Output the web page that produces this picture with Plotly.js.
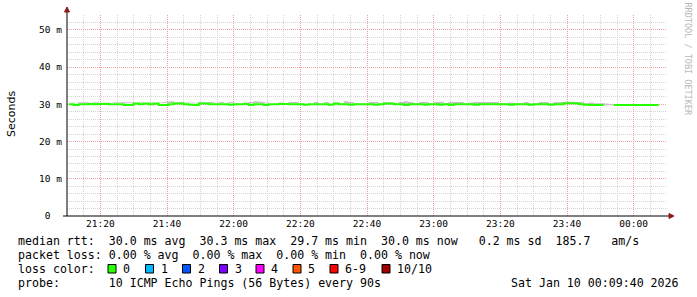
<!DOCTYPE html>
<html>
<head>
<meta charset="utf-8">
<script src="https://cdn.plot.ly/plotly-3.0.1.min.js"></script>
<style>html,body{margin:0;padding:0;background:#fff;}#chart{width:697px;height:297px;}</style>
</head>
<body>
<div id="chart"></div>
<script>
// ---- data (ms) ----
const sampleStart = '2026-01-09T21:10:30Z';
const sampleStepSec = 90;
const medianRtt = [
  30.0, 29.8, 30.0, 30.0, 30.1, 30.0, 30.1, 30.1, 30.0, 30.0,
  30.0, 29.8, 29.8, 30.2, 30.0, 30.2, 30.0, 30.2, 29.8, 29.8,
  30.0, 30.2, 30.2, 30.0, 29.9, 29.8, 30.2, 30.2, 30.0, 30.0,
  30.0, 30.0, 29.9, 30.0, 30.0, 30.1, 29.8, 30.0, 30.0, 29.8,
  30.0, 30.0, 30.1, 30.1, 30.0, 30.0, 30.0, 29.9, 30.0, 30.0,
  30.0, 30.0, 29.9, 30.2, 30.0, 30.0, 29.9, 30.0, 30.0, 30.0,
  30.0, 29.9, 30.0, 30.2, 30.2, 30.0, 30.0, 29.8, 30.0, 30.0,
  30.0, 29.9, 30.0, 30.0, 29.9, 30.0, 29.8, 30.0, 30.0, 30.0,
  30.0, 29.9, 30.0, 30.0, 30.0, 30.0, 30.0, 30.0, 29.9, 30.0,
  30.0, 30.0, 29.9, 30.0, 30.0, 30.0, 29.9, 30.0, 30.0, 30.3,
  30.3, 30.3, 30.0, 29.9, 29.8, 29.8, 29.8, 29.8, null, 29.8,
  29.8, 29.8, 29.8, 29.8, 29.8, 29.8, 29.8, 29.8, 29.8, null
];
const smokeMax = [
  30.6, 30.6, 30.3, 30.3, 30.6, 30.3, 30.6, 30.6, 30.6, 30.3,
  30.3, 30.3, 30.3, 30.5, 30.3, 30.5, 30.3, 30.5, 30.3, 30.7,
  30.8, 30.5, 30.5, 30.3, 30.3, 30.3, 30.5, 30.5, 30.6, 30.3,
  30.6, 30.3, 30.6, 30.3, 30.3, 30.5, 30.6, 30.8, 30.7, 30.5,
  30.3, 30.3, 30.5, 30.3, 30.6, 30.6, 30.3, 30.3, 30.3, 30.6,
  30.3, 30.6, 30.3, 30.5, 30.3, 30.8, 30.6, 30.3, 30.3, 30.3,
  30.6, 30.6, 30.3, 30.5, 30.5, 30.3, 30.6, 30.8, 30.6, 30.3,
  30.6, 30.6, 30.3, 30.6, 30.7, 30.3, 30.6, 30.6, 30.6, 30.3,
  30.5, 30.6, 30.6, 30.6, 30.6, 30.6, 30.3, 30.3, 30.5, 30.3,
  30.3, 30.6, 30.3, 30.3, 30.6, 30.6, 30.3, 30.6, 30.6, 30.7,
  30.7, 30.6, 30.6, 30.3, 30.5, 30.3, 30.3, 30.3, null, 30.0,
  30.0, 30.0, 30.0, 30.0, 30.0, 30.0, 30.0, 30.0, 30.6, null
];
const yTickVals = [0, 10, 20, 30, 40, 50];
const yTickText = ['\u00a00\u00a0\u00a0', '10 m', '20 m', '30 m', '40 m', '50 m'];
const lossColors = ['#26ff00', '#00b8ff', '#0059ff', '#7e00ff', '#ff00ff', '#ff5500', '#ff0000', '#a10000'];
const lossLabels = ['0', '1', '2', '3', '4', '5', '6-9', '10/10'];
const statsLine = 'median rtt:  30.0 ms avg  30.3 ms max  29.7 ms min  30.0 ms now   0.2 ms sd  185.7   am/s';
const lossLine = 'packet loss: 0.00 % avg  0.00 % max  0.00 % min  0.00 % now';
const probeLine = 'probe:       10 ICMP Echo Pings (56 Bytes) every 90s';
const dateLine = 'Sat Jan 10 00:09:40 2026';

// ---- geometry ----
const W = 697, H = 297;
const M = {l: 67, r: 30, t: 15, b: 81};
const PW = W - M.l - M.r, PH = H - M.t - M.b;
const px = x => (x - M.l) / PW;
const py = y => (H - M.b - y) / PH;

const base = Date.parse(sampleStart);
const times = medianRtt.map((_, i) => new Date(base + i * sampleStepSec * 1000).toISOString().replace('T', ' ').slice(0, 19));

const mono = 'DejaVu Sans Mono, monospace';
const traces = [
  {x: times, y: medianRtt, type: 'scatter', mode: 'lines', line: {width: 0, shape: 'hv'}, hoverinfo: 'skip', showlegend: false},
  {x: times, y: smokeMax, type: 'scatter', mode: 'lines', line: {width: 0, shape: 'hv'}, fill: 'tonexty', fillcolor: '#c4c4c4', hoverinfo: 'skip', showlegend: false},
  {x: times, y: medianRtt, type: 'scatter', mode: 'lines', line: {width: 2, shape: 'hv', color: '#26ff00'}, showlegend: false}
];

function txt(text, x, y, xanchor, font) {
  return {text: text, x: px(x), y: py(y), xanchor: xanchor, yanchor: 'middle', xref: 'paper', yref: 'paper', showarrow: false, font: font};
}
const bodyFont = {family: mono, size: 11.6, color: '#000'};
const annotations = [
  Object.assign(txt('Seconds', 11, 114, 'center', {family: 'DejaVu Sans, sans-serif', size: 11, color: '#000'}), {textangle: -90}),
  Object.assign(txt('RRDTOOL / TOBI OETIKER', 687.5, 59, 'center', {family: mono, size: 8.5, color: '#b8b8b8'}), {textangle: 90}),
  txt(statsLine.replace(/ /g, '\u00a0'), 16, 241, 'left', bodyFont),
  txt(lossLine.replace(/ /g, '\u00a0'), 16, 255, 'left', bodyFont),
  txt('loss\u00a0color:', 16, 269, 'left', bodyFont),
  txt(probeLine.replace(/ /g, '\u00a0'), 16, 283, 'left', bodyFont),
  txt(dateLine.replace(/ /g, '\u00a0'), 681, 283, 'right', bodyFont)
];
const swatchLeft = [108, 145.5, 182.5, 219.5, 256, 293, 330, 382];
const shapes = [];
lossLabels.forEach((lab, i) => {
  const x0 = swatchLeft[i];
  shapes.push({type: 'rect', xref: 'paper', yref: 'paper', x0: px(x0), x1: px(x0 + 8), y0: py(273), y1: py(264.5), fillcolor: lossColors[i], line: {color: '#000', width: 1}});
  annotations.push(txt(lab, x0 + 13, 269, 'left', bodyFont));
});
// axes with arrows
shapes.push({type: 'line', xref: 'paper', yref: 'paper', x0: px(67), x1: px(67), y0: py(216), y1: py(10), line: {color: '#000', width: 1}});
shapes.push({type: 'line', xref: 'paper', yref: 'paper', x0: px(63), x1: px(671), y0: py(216), y1: py(216), line: {color: '#000', width: 1}});
shapes.push({type: 'path', xref: 'paper', yref: 'paper', path: `M ${px(64.5)} ${py(12)} L ${px(69.5)} ${py(12)} L ${px(67)} ${py(7)} Z`, fillcolor: '#8b1a1a', line: {color: '#8b1a1a', width: 1}});
shapes.push({type: 'path', xref: 'paper', yref: 'paper', path: `M ${px(669)} ${py(213.5)} L ${px(669)} ${py(218.5)} L ${px(674)} ${py(216)} Z`, fillcolor: '#8b1a1a', line: {color: '#8b1a1a', width: 1}});

const layout = {
  width: W, height: H,
  margin: M,
  paper_bgcolor: '#fff', plot_bgcolor: '#fff',
  showlegend: false,
  xaxis: {
    type: 'date',
    range: ['2026-01-09 21:10:00', '2026-01-10 00:10:00'],
    tick0: '2026-01-09 21:20:00', dtick: 20 * 60 * 1000,
    tickformat: '%H:%M',
    showgrid: true, gridcolor: '#eba0a0', griddash: '1px,1px', gridwidth: 1,
    minor: {dtick: 5 * 60 * 1000, tick0: '2026-01-09 21:10:00', showgrid: true, gridcolor: '#d4d4d4', griddash: '1px,1px', gridwidth: 1},
    zeroline: false, showline: false, ticks: '',
    tickfont: {family: mono, size: 9.5, color: '#000'},
    fixedrange: true
  },
  yaxis: {
    range: [0, 54],
    tickvals: yTickVals, ticktext: yTickText,
    showgrid: true, gridcolor: '#eba0a0', griddash: '1px,1px', gridwidth: 1,
    minor: {dtick: 2, showgrid: true, gridcolor: '#d4d4d4', griddash: '1px,1px', gridwidth: 1},
    zeroline: false, showline: false, ticks: '',
    ticklabelstandoff: 4,
    tickfont: {family: mono, size: 9.5, color: '#000'},
    fixedrange: true
  },
  annotations: annotations,
  shapes: shapes
};
Plotly.newPlot('chart', traces, layout, {displayModeBar: false, staticPlot: true});
</script>
</body>
</html>
